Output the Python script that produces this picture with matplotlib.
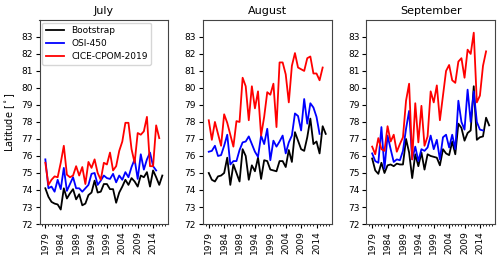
import numpy as np
import matplotlib
matplotlib.use("Agg")
import matplotlib.pyplot as plt
import matplotlib.ticker as ticker

years_bs = np.arange(1979, 2018)
years_osi = np.arange(1979, 2016)
years_cice = np.arange(1979, 2017)

# July
jul_bs = [74.1, 73.6, 73.3, 73.2, 73.15, 72.85, 74.1, 73.5, 73.8, 74.05,
          73.45, 73.75, 73.1, 73.2, 73.7, 73.85, 74.55, 73.85, 73.9, 74.35,
          74.35, 74.05, 74.05, 73.25, 73.85, 74.2, 74.6, 74.3, 74.7, 74.5,
          74.2, 74.85, 74.75, 75.05, 74.2, 75.15, 74.75, 74.3, 74.85]
jul_osi = [75.8, 74.1, 74.2, 73.9, 74.6, 74.05, 75.3, 73.95, 74.35, 74.75,
           74.1, 74.1, 73.9, 74.1, 74.3, 74.95, 75.0, 74.3, 74.55, 74.85,
           74.7, 74.65, 74.95, 74.45, 74.85, 74.6, 75.05, 74.75, 75.35, 75.8,
           74.65, 76.1, 75.2, 75.8, 76.2, 75.4, 75.15]
jul_cice = [75.6, 74.3, 74.6, 74.8, 74.75, 75.6, 76.6, 74.9, 74.75, 74.85,
            75.4, 74.85, 75.35, 74.35, 75.65, 75.3, 75.8, 75.0, 74.6, 75.6,
            75.5, 76.2, 75.15, 75.4, 76.3, 76.85, 77.95, 77.95, 76.4, 75.6,
            77.35, 77.25, 77.45, 78.3, 75.4, 75.4, 77.8, 77.05]

# August
aug_bs = [75.0, 74.6, 74.5, 74.8, 74.85, 75.0, 75.9, 74.3, 75.5, 75.0,
          74.5, 76.4, 76.0, 74.6, 75.45, 75.1, 75.9, 74.65, 75.75, 75.7,
          75.2, 75.15, 75.1, 75.7, 75.7, 75.35, 76.35, 75.65, 77.4, 76.9,
          76.4, 76.3, 77.1, 78.2, 76.7, 76.85, 76.15, 77.75, 77.3]
aug_osi = [76.25, 76.3, 76.6, 76.0, 76.05, 76.6, 77.25, 75.5, 75.7, 75.7,
           76.35, 76.8, 76.85, 77.15, 76.7, 76.25, 75.95, 77.2, 76.7, 77.6,
           75.75, 76.9, 76.55, 76.85, 77.2, 76.15, 76.8, 77.2, 78.5, 78.35,
           77.5, 79.35, 77.9, 79.1, 78.85, 78.3, 77.3]
aug_cice = [78.1, 76.95, 78.0, 77.3, 76.6, 78.45, 77.95, 77.25, 76.55, 78.05,
            78.0, 80.6, 80.1, 78.1, 80.1, 78.8, 79.8, 77.2, 78.3, 79.75,
            79.6, 80.25, 77.7, 81.5, 81.5, 80.8, 79.15, 81.3, 82.05, 81.2,
            81.1, 81.0, 81.75, 81.85, 80.85, 80.85, 80.45, 81.2]

# September
sep_bs = [75.85, 75.15, 74.95, 75.6, 75.0, 75.45, 75.5, 75.4, 75.55, 75.5,
          75.5, 77.0, 76.2, 74.7, 76.1, 75.4, 76.2, 75.2, 76.1, 76.0,
          75.95, 75.9, 75.45, 76.4, 76.15, 76.05, 76.85, 76.1, 77.9, 77.65,
          76.9, 77.35, 77.5, 80.1, 76.95, 77.1, 77.15, 78.25, 77.8]
sep_osi = [76.15, 75.7, 75.6, 77.7, 75.25, 77.2, 76.4, 75.65, 75.8, 75.75,
           76.3, 77.6, 78.65, 75.8, 76.55, 75.7, 76.4, 76.3, 76.5, 77.2,
           76.4, 76.95, 75.8, 77.1, 77.25, 76.5, 77.25, 76.4, 79.25, 78.0,
           77.55, 79.9, 78.0, 79.8, 78.0, 77.55, 77.5]
sep_cice = [76.55, 76.1, 77.05, 76.4, 76.3, 77.75, 76.85, 77.25, 76.25, 76.7,
            77.1, 79.25, 80.25, 75.8, 79.1, 76.8, 78.95, 76.6, 77.15, 79.8,
            79.15, 80.15, 78.1, 79.55, 81.0, 81.35, 80.45, 80.3, 81.55, 81.75,
            80.6, 82.25, 82.0, 83.25, 79.15, 79.55, 81.3, 82.15]

months = ["July", "August", "September"]
series = [(jul_bs, jul_osi, jul_cice),
          (aug_bs, aug_osi, aug_cice),
          (sep_bs, sep_osi, sep_cice)]
xticks = np.arange(1979, 2015, 5)

fig, ax = plt.subplots(nrows=1, ncols=3, figsize=(5, 2.62), dpi=100)
fig.subplots_adjust(left=0.079, right=0.99, bottom=0.145, top=0.924, wspace=0.27)

for i, axes in enumerate(ax):
    bs, osi, cice = series[i]
    axes.plot(years_bs, bs, color='black', lw=1.3, label='Bootstrap')
    axes.plot(years_osi, osi, color='blue', lw=1.3, label='OSI-450')
    axes.plot(years_cice, cice, color='red', lw=1.3, label='CICE-CPOM-2019')
    axes.set_ylim(72, 84)
    axes.set_yticks(np.arange(72, 84, 1))
    axes.set_xticks(xticks)
    axes.set_xticklabels([str(y) for y in xticks], rotation=90)
    axes.xaxis.set_minor_locator(ticker.MultipleLocator(1))
    axes.tick_params(labelsize=6.5, length=3, pad=2)
    axes.tick_params(which='minor', length=1.5)
    axes.set_title(months[i], fontsize=8, pad=4)
    for s in axes.spines.values():
        s.set_color('#444444')

ax[0].set_ylabel('Latitude [$^\\circ$]', fontsize=7, labelpad=3)
ax[0].legend(loc='upper left', fontsize=6.5, handlelength=2.0,
             borderpad=0.4, labelspacing=0.45, borderaxespad=0.3)

fig.savefig('out.png', dpi=100)
